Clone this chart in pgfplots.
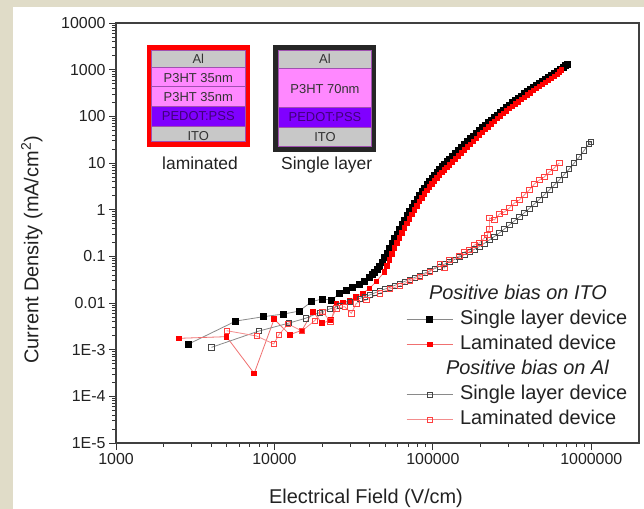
\documentclass[border=0pt]{standalone}
\usepackage{pgfplots}
\pgfplotsset{compat=1.18}
\usepackage{fontspec}
\setmainfont{Liberation Sans}
\definecolor{bgbeige}{HTML}{E0DCC8}
\definecolor{linegray}{HTML}{8A8A8A}
\definecolor{markgray}{HTML}{454545}
\definecolor{lightred}{HTML}{F07070}
\definecolor{layergray}{HTML}{C8C8C8}
\definecolor{p3ht}{HTML}{FF88FF}
\definecolor{pedot}{HTML}{8000FF}
\definecolor{pedottext}{HTML}{40007A}
\definecolor{edge}{HTML}{A050B0}
\definecolor{txt}{HTML}{222222}

\begin{document}
\begin{tikzpicture}
\fill[bgbeige] (0,0) rectangle (644bp,509bp);
\fill[white] (13bp,0) rectangle (644bp,502bp);
\begin{axis}[
    at={(116bp,66bp)}, anchor=south west,
    scale only axis, width=523bp, height=420bp,
    xmode=log, ymode=log,
    xmin=1000, xmax=2e6, ymin=1e-5, ymax=1e4,
    tick pos=left, tick align=outside,
    major tick length=7bp, minor tick length=4bp,
    xtick={1000,10000,100000,1000000},
    xticklabels={1000,10000,100000,1000000},
    minor xtick={2000,3000,4000,5000,6000,7000,8000,9000,
        20000,30000,40000,50000,60000,70000,80000,90000,
        200000,300000,400000,500000,600000,700000,800000,900000},
    ytick={1e-5,1e-4,1e-3,1e-2,1e-1,1,10,100,1000,10000},
    yticklabels={1E-5,1E-4,1E-3,0.01,0.1,1,10,100,1000,10000},
    minor ytick={2e-5,3e-5,4e-5,5e-5,6e-5,7e-5,8e-5,9e-5,
        2e-4,3e-4,4e-4,5e-4,6e-4,7e-4,8e-4,9e-4,
        2e-3,3e-3,4e-3,5e-3,6e-3,7e-3,8e-3,9e-3,
        0.02,0.03,0.04,0.05,0.06,0.07,0.08,0.09,
        0.2,0.3,0.4,0.5,0.6,0.7,0.8,0.9,
        2,3,4,5,6,7,8,9,20,30,40,50,60,70,80,90,
        200,300,400,500,600,700,800,900,
        2000,3000,4000,5000,6000,7000,8000,9000},
    axis line style={draw=black!75, line width=1.2bp},
    every tick/.style={black!80, line width=0.8bp},
    tick label style={font=\fontsize{16}{19}\selectfont, text=txt},
    label style={font=\fontsize{20}{24}\selectfont, text=txt},
    xlabel={Electrical Field (V/cm)},
    ylabel={Current Density (mA/cm\textsuperscript{2})},
    xlabel style={at={(axis description cs:0.478,0)}, yshift=-55bp, anchor=center},
    ylabel style={at={(axis description cs:-0.161,0.46)}, anchor=center},
    legend cell align=left,
    legend style={draw=none, fill=none, inner sep=0pt,
        at={(axis description cs:0.5545,0.380)}, anchor=north west,
        font=\fontsize{20}{24}\selectfont, text=txt, row sep=3bp,
        /tikz/every odd column/.append style={column sep=6bp},
        nodes={inner sep=1bp, text height=15bp, text depth=5bp}},
    legend image code/.code={\draw[mark repeat=2,mark phase=2,#1]
        plot coordinates {(0bp,0bp) (23bp,0bp) (46bp,0bp)};},
]
\addlegendimage{empty legend}
\addlegendentry{\hspace*{-31bp}\textit{Positive bias on ITO}}
% positive bias on ITO, single layer
\addplot[color=linegray, line width=0.8bp, mark=square*, mark size=3bp,
    mark options={fill=black, draw=black}] coordinates {
(2846,1.3e-3) (5700,4.1e-3) (8570,5.1e-3) (11400,5.8e-3) (14300,6.7e-3)
(17200,0.0107) (20000,0.0122) (23000,0.0116) (25800,0.0162) (28400,0.0184)
(31200,0.0220) (34470,0.02555) (37070,0.02965) (39860,0.0361) (41330,0.04083)
(42850,0.0462) (44440,0.05356) (46070,0.0621) (47790,0.0757) (49550,0.0945)
(51370,0.1180) (53280,0.151) (55240,0.1932) (57280,0.2413) (59390,0.3012)
(61590,0.3855) (63870,0.4815) (66220,0.601) (68670,0.7503) (71210,0.937)
(73840,1.141) (76560,1.390) (79400,1.693) (82330,2.063) (85370,2.453)
(88510,2.914) (91800,3.463) (95190,4.116) (98700,4.772) (102330,5.535)
(106100,6.418) (110040,7.44) (114100,8.42) (118300,9.52) (122700,10.77)
(127200,12.19) (132900,14.13) (138700,16.39) (145000,19.00) (151400,22.03)
(158200,25.23) (165200,28.9) (172600,33.10) (180300,37.9) (188300,43.42)
(196700,49.7) (205400,56.95) (214400,65.2) (224000,73.79) (233900,83.5)
(244400,94.4) (255400,106.8) (266700,120.9) (278600,136.7) (290900,154.7)
(303900,175) (317400,195.6) (331300,218.5) (346300,244.1) (361400,272.8)
(377700,304.8) (394500,340.6) (412100,380.6) (430300,425.3) (449600,469.5)
(469600,518) (490500,571.6) (511700,631) (535100,696.4) (558500,769)
(583900,848.4) (609500,936) (636800,1034) (665300,1141) (684700,1228)
(704700,1323)
};
\addlegendentry{Single layer device}
% positive bias on ITO, laminated
\addplot[color=lightred, line width=0.8bp, mark=square*, mark size=2.3bp,
    mark options={fill=red, draw=red}] coordinates {
(2490,1.75e-3) (4980,1.9e-3) (7450,3.1e-4) (9950,4.5e-3) (12500,2.1e-3)
(14900,2.6e-3) (17500,6.5e-3) (20000,3.7e-3) (22800,4.3e-3) (24600,9.9e-3)
(27000,0.0102) (29800,0.0112) (32800,0.0137) (36100,0.0162) (39800,0.0206)
(44000,0.029) (49550,0.0469) (51370,0.0627) (53280,0.0835) (55240,0.1123)
(57280,0.151) (59390,0.1932) (61590,0.2472) (63870,0.3167) (66220,0.405)
(68670,0.5057) (71210,0.6314) (73840,0.788) (76560,0.984) (79400,1.217)
(82330,1.497) (85370,1.806) (88510,2.168) (91800,2.576) (95190,3.062)
(98700,3.55) (102330,4.116) (106100,4.772) (110040,5.535) (114100,6.26)
(118300,7.083) (122700,8.01) (127200,9.067) (132900,10.51) (138700,12.19)
(145000,14.13) (151400,16.39) (158200,19.00) (165200,22.03) (172600,25.23)
(180300,28.9) (188300,33.92) (196700,39.83) (205400,45.61) (214400,52.24)
(224000,59.83) (233900,68.53) (244400,78.48) (255400,89.9) (266700,101.7)
(278600,115.1) (290900,130.2) (303900,147.2) (317400,164.5) (331300,183.9)
(346300,205.4) (361400,229.5) (377700,256.4) (394500,286.6) (412100,320.2)
(430300,357.8) (449600,394.9) (469600,435.9) (490500,481.1) (511700,531.0)
(535100,586.1) (558500,646.9) (583900,714.0) (609500,788) (627800,882.6)
(647100,983.8)
};
\addlegendentry{Laminated device}
\addlegendimage{empty legend}
\addlegendentry{\hspace*{-14bp}\textit{Positive bias on Al}}
% positive bias on Al, single layer
\addplot[color=linegray, line width=0.8bp, mark=square, mark size=2.6bp,
    mark options={draw=markgray, line width=0.7bp}] coordinates {
(4000,1.12e-3) (7960,2.5e-3) (12300,3.7e-3) (15700,4.7e-3) (19290,6.265e-3)
(22320,7.44e-3) (25790,8.85e-3) (29820,0.01051) (34470,0.0125) (37070,0.01366)
(39860,0.01485) (42850,0.0164) (46070,0.0181) (49550,0.01977) (53280,0.0215)
(57280,0.02373) (61590,0.0262) (66220,0.02891) (71210,0.0319) (76560,0.03522)
(82330,0.0389) (88510,0.04355) (95190,0.0485) (102330,0.05437) (110040,0.0606)
(118300,0.06789) (127200,0.0757) (136800,0.0856) (147100,0.0969) (158200,0.1096)
(170100,0.124) (182900,0.1416) (196700,0.1626) (211400,0.1904) (227400,0.224)
(244400,0.2662) (262900,0.3167) (282600,0.3855) (303900,0.4694) (326800,0.572)
(351300,0.6968) (377700,0.857) (406200,1.06) (436800,1.323) (469600,1.652)
(505000,2.084) (542900,2.641) (583900,3.38) (627800,4.324) (674900,5.673)
(725600,7.44) (780200,10.0) (839100,13.45) (902300,18.72) (970000,26.2)
(993000,28.6)
};
\addlegendentry{Single layer device}
% positive bias on Al, laminated
\addplot[color=lightred!80, line width=0.8bp, mark=square, mark size=2.6bp,
    mark options={draw=red!75, line width=0.7bp}] coordinates {
(4983,2.553e-3) (7701,1.965e-3) (9900,1.324e-3) (10640,2.064e-3) (12180,3.553e-3)
(14930,2.515e-3) (17940,4.18e-3) (20070,6.52e-3) (22540,4.06e-3) (24590,7.70e-3)
(27730,8.34e-3) (30560,6.02e-3) (32860,9.86e-3) (37990,0.01161) (46070,0.01615)
(53280,0.01997) (61590,0.02316) (71210,0.02965) (82330,0.0361) (95190,0.0462)
(110040,0.0686) (118300,0.0563) (127200,0.0835) (147100,0.1017) (158200,0.124)
(170100,0.1368) (182900,0.1751) (196700,0.1932) (211400,0.2472) (220800,0.2868)
(227400,0.3855) (227400,0.6634) (244400,0.601) (262900,0.808) (282600,0.892)
(303900,1.086) (326800,1.39) (351300,1.612) (377700,2.063) (406200,2.641)
(436800,3.55) (469600,4.324) (505000,5.013) (542900,6.418) (583900,7.82)
(627800,10.0)
};
\addlegendentry{Laminated device}
\end{axis}

% device sketches
\begin{scope}[x=1bp, y=-1bp, yshift=509bp]
\tikzset{lay/.style={draw=edge, line width=0.5bp},
    lt/.style={font=\fontsize{13}{15}\selectfont, text=black!80, inner sep=0pt}}
% laminated
\fill[red] (147,45) rectangle (249.5,146.7);
\filldraw[lay, fill=layergray] (151.7,50.7) rectangle (245,67.3);
\filldraw[lay, fill=p3ht] (151.7,67.3) rectangle (245,86.7);
\filldraw[lay, fill=p3ht] (151.7,86.7) rectangle (245,106);
\filldraw[lay, fill=pedot] (151.7,106) rectangle (245,126.7);
\filldraw[lay, fill=layergray] (151.7,126.7) rectangle (245,141.7);
\node[lt] at (198.3,59.3) {Al};
\node[lt] at (198.3,77.7) {P3HT 35nm};
\node[lt] at (198.3,96.7) {P3HT 35nm};
\node[lt, text=pedottext] at (198.3,116.3) {PEDOT:PSS};
\node[lt] at (198.3,136) {ITO};
\node[font=\fontsize{17.5}{20}\selectfont, text=txt] at (200,163) {laminated};
% single layer
\fill[black!85] (273.3,45) rectangle (376,151.7);
\filldraw[lay, fill=layergray] (278.3,50.7) rectangle (371.7,68.3);
\filldraw[lay, fill=p3ht] (278.3,68.3) rectangle (371.7,107.3);
\filldraw[lay, fill=pedot] (278.3,107.3) rectangle (371.7,127.3);
\filldraw[lay, fill=layergray] (278.3,127.3) rectangle (371.7,146.7);
\node[lt] at (325,59.3) {Al};
\node[lt] at (325,89.3) {P3HT 70nm};
\node[lt, text=pedottext] at (325,117.3) {PEDOT:PSS};
\node[lt] at (325,137.5) {ITO};
\node[font=\fontsize{17.5}{20}\selectfont, text=txt] at (326.7,165) {Single layer};
\end{scope}
\pgfresetboundingbox
\useasboundingbox (0,0) rectangle (644bp,509bp);
\end{tikzpicture}
\end{document}
